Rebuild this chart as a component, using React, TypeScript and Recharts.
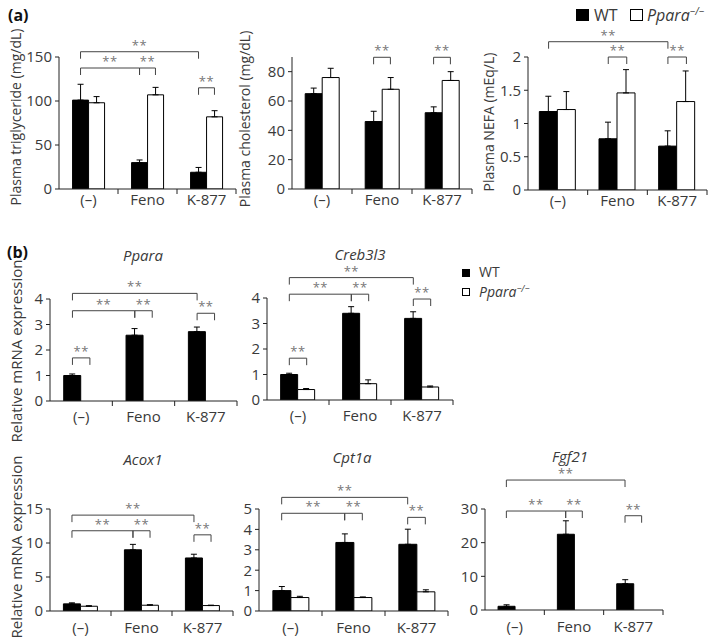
import React from "react";
import { BarChart, Bar, XAxis, YAxis, ErrorBar, ReferenceLine } from "recharts";

const groups = ["(–)", "Feno", "K-877"];

// (a) plasma lipids: WT / Ppara-/- means and SEM
const tgWT = [101, 30, 19];
const tgWTSem = [18, 3, 5.5];
const tgKO = [98, 107, 82];
const tgKOSem = [7, 8.5, 7];

const cholWT = [65, 46, 52];
const cholWTSem = [3.8, 7, 4];
const cholKO = [76, 68, 74];
const cholKOSem = [6.3, 8, 6];

const nefaWT = [1.18, 0.77, 0.66];
const nefaWTSem = [0.23, 0.25, 0.23];
const nefaKO = [1.21, 1.46, 1.33];
const nefaKOSem = [0.27, 0.35, 0.46];

// (b) relative mRNA expression
const pparaWT = [1.0, 2.58, 2.72];
const pparaWTSem = [0.06, 0.26, 0.18];
const pparaKO = [0, 0, 0];
const pparaKOSem = [0, 0, 0];

const creb3l3WT = [1.0, 3.4, 3.2];
const creb3l3WTSem = [0.05, 0.26, 0.26];
const creb3l3KO = [0.41, 0.64, 0.51];
const creb3l3KOSem = [0.04, 0.15, 0.04];

const acox1WT = [1.05, 9.0, 7.8];
const acox1WTSem = [0.15, 0.8, 0.55];
const acox1KO = [0.7, 0.85, 0.8];
const acox1KOSem = [0.08, 0.08, 0.06];

const cpt1aWT = [1.0, 3.36, 3.27];
const cpt1aWTSem = [0.2, 0.42, 0.74];
const cpt1aKO = [0.66, 0.66, 0.94];
const cpt1aKOSem = [0.06, 0.03, 0.1];

const fgf21WT = [1.1, 22.5, 7.8];
const fgf21WTSem = [0.45, 4.0, 1.2];
const fgf21KO = [0, 0, 0];
const fgf21KOSem = [0, 0, 0];

// significance brackets: [fromGroup, fromSeries, toGroup, toSeries, level] (series 0 = WT, 1 = KO)
type Sig = [number, number, number, number, number];
const tgSig: Sig[] = [[0, 0, 2, 0, 156], [0, 0, 1, 0, 137.5], [1, 0, 1, 1, 137.5], [2, 0, 2, 1, 115]];
const cholSig: Sig[] = [[1, 0, 1, 1, 89.8], [2, 0, 2, 1, 89.8]];
const nefaSig: Sig[] = [[0, 0, 2, 0, 2.23], [1, 0, 1, 1, 2.0], [2, 0, 2, 1, 2.0]];
const pparaSig: Sig[] = [[0, 0, 2, 0, 4.22], [0, 0, 1, 0, 3.54], [1, 0, 1, 1, 3.54], [2, 0, 2, 1, 3.44], [0, 0, 0, 1, 1.69]];
const creb3l3Sig: Sig[] = [[0, 0, 2, 0, 4.8], [0, 0, 1, 0, 4.15], [1, 0, 1, 1, 4.15], [2, 0, 2, 1, 3.96], [0, 0, 0, 1, 1.64]];
const acox1Sig: Sig[] = [[0, 0, 2, 0, 14.1], [0, 0, 1, 0, 11.8], [1, 0, 1, 1, 11.8], [2, 0, 2, 1, 11.2]];
const cpt1aSig: Sig[] = [[0, 0, 2, 0, 5.57], [0, 0, 1, 0, 4.79], [1, 0, 1, 1, 4.79], [2, 0, 2, 1, 4.59]];
const fgf21Sig: Sig[] = [[0, 0, 2, 0, 38.6], [0, 0, 1, 0, 29.4], [1, 0, 1, 1, 29.4], [2, 0, 2, 1, 28.0]];

const FONT = "'Open Sans', 'DejaVu Sans', sans-serif";
const TEXT = "#3a3a3a";
const AXIS = "#222";

type PanelProps = {
  x0: number;
  x1: number;
  y0: number;
  y1: number;
  wt: number[];
  wtSem: number[];
  ko: number[];
  koSem: number[];
  domain: [number, number];
  ticks: number[];
  sig: Sig[];
  gap: number;
  labelDy: number;
};

function Bracket(props: any) {
  const { x1, y1, x2 } = props;
  if (x1 == null || y1 == null) return <g />;
  return (
    <g>
      <path d={`M${x1},${y1 + 7}V${y1}H${x2}V${y1 + 7}`} fill="none" stroke="#444" strokeWidth={1} />
      <text x={(x1 + x2) / 2} y={y1 - 2} textAnchor="middle" fontSize={13} fill="#777" fontFamily={FONT} letterSpacing={0.5}>
        **
      </text>
    </g>
  );
}

function GroupTick(props: any) {
  const { x, y, payload, dy } = props;
  const v = payload.value;
  if (Number.isInteger(v)) {
    return <line x1={x} y1={y} x2={x} y2={y + 5} stroke={AXIS} />;
  }
  return (
    <text x={x} y={y + dy} textAnchor="middle" fontSize={15} fill={TEXT} fontFamily={FONT}>
      {groups[Math.floor(v)]}
    </text>
  );
}

function Panel(p: PanelProps) {
  const yw = 40;
  const mt = Math.min(p.y0, 70);
  const mr = 2;
  const mb = 30;
  const width = p.x1 - p.x0 + yw + mr;
  const height = p.y1 - p.y0 + mt + mb;
  // each group spans [i, i+1] on the numeric position axis
  const data = groups.map((g, i) => ({
    g,
    span: [i, i + 1],
    wt: p.wt[i],
    ko: p.ko[i],
    wtErr: [0, p.wtSem[i]],
    koErr: [0, p.koSem[i]],
  }));
  const half = (0.5 - p.gap) / 2;
  const cx = (grp: number, s: number) => grp + 0.5 + (s === 0 ? -half : half);

  return (
    <div style={{ position: "absolute", left: p.x0 - yw, top: p.y0 - mt }}>
      <BarChart
        width={width}
        height={height}
        data={data}
        margin={{ top: mt, right: mr, bottom: 0, left: 0 }}
        barGap={0}
        barCategoryGap={`${p.gap * 100}%`}
      >
        <XAxis
          xAxisId="n"
          type="number"
          dataKey="span"
          domain={[0, 3]}
          ticks={[0.5, 1, 1.5, 2, 2.5, 3]}
          interval={0}
          height={mb}
          tickSize={0}
          tickMargin={0}
          tickLine={false}
          stroke={AXIS}
          allowDataOverflow
          tick={(t: any) => <GroupTick {...t} dy={p.labelDy} />}
        />
        <XAxis xAxisId="c" dataKey="g" hide height={0} />
        <YAxis
          width={yw}
          domain={p.domain}
          ticks={p.ticks}
          interval={0}
          allowDataOverflow
          tickSize={4}
          tickMargin={3}
          stroke={AXIS}
          tick={{ fontSize: 15, fill: TEXT, fontFamily: FONT }}
        />
        <Bar dataKey="wt" xAxisId="c" fill="#000" stroke="#000" isAnimationActive={false}>
          <ErrorBar dataKey="wtErr" width={3} stroke="#000" strokeWidth={1} direction="y" />
        </Bar>
        <Bar dataKey="ko" xAxisId="c" fill="#fff" stroke="#000" isAnimationActive={false}>
          <ErrorBar dataKey="koErr" width={3} stroke="#000" strokeWidth={1} direction="y" />
        </Bar>
        {p.sig.map((s, i) => (
          <ReferenceLine
            key={i}
            xAxisId="n"
            ifOverflow="visible"
            segment={[
              { x: cx(s[0], s[1]), y: s[4] },
              { x: cx(s[2], s[3]), y: s[4] },
            ]}
            shape={(sp: any) => <Bracket {...sp} />}
          />
        ))}
      </BarChart>
    </div>
  );
}

function VLabel({ x, y, text, size }: { x: number; y: number; text: string; size: number }) {
  return (
    <text
      x={x}
      y={y}
      transform={`rotate(-90 ${x} ${y})`}
      textAnchor="middle"
      dominantBaseline="central"
      fontSize={size}
      fill={TEXT}
      fontFamily={FONT}
    >
      {text}
    </text>
  );
}

function Title({ x, y, text }: { x: number; y: number; text: string }) {
  return (
    <text x={x} y={y + 5} textAnchor="middle" fontSize={15} fontStyle="italic" fill={TEXT} fontFamily={FONT}>
      {text}
    </text>
  );
}

export default function App() {
  return (
    <div style={{ position: "absolute", left: 0, top: 0, width: 709, height: 638, background: "#fff", fontFamily: FONT }}>
      <Panel x0={59} x1={236} y0={57} y1={189} wt={tgWT} wtSem={tgWTSem} ko={tgKO} koSem={tgKOSem} domain={[0, 150]} ticks={[0, 50, 100, 150]} sig={tgSig} gap={0.23} labelDy={16} />
      <Panel x0={292} x1={472} y0={57} y1={189} wt={cholWT} wtSem={cholWTSem} ko={cholKO} koSem={cholKOSem} domain={[0, 90]} ticks={[0, 20, 40, 60, 80]} sig={cholSig} gap={0.22} labelDy={16} />
      <Panel x0={528} x1={707} y0={57} y1={190} wt={nefaWT} wtSem={nefaWTSem} ko={nefaKO} koSem={nefaKOSem} domain={[0, 2]} ticks={[0, 0.5, 1, 1.5, 2]} sig={nefaSig} gap={0.19} labelDy={16} />

      <Panel x0={50} x1={237} y0={299} y1={401} wt={pparaWT} wtSem={pparaWTSem} ko={pparaKO} koSem={pparaKOSem} domain={[0, 4]} ticks={[0, 1, 2, 3, 4]} sig={pparaSig} gap={0.22} labelDy={21} />
      <Panel x0={267} x1={453} y0={298} y1={400} wt={creb3l3WT} wtSem={creb3l3WTSem} ko={creb3l3KO} koSem={creb3l3KOSem} domain={[0, 4]} ticks={[0, 1, 2, 3, 4]} sig={creb3l3Sig} gap={0.22} labelDy={21} />

      <Panel x0={50} x1={233} y0={509} y1={611} wt={acox1WT} wtSem={acox1WTSem} ko={acox1KO} koSem={acox1KOSem} domain={[0, 15]} ticks={[0, 5, 10, 15]} sig={acox1Sig} gap={0.22} labelDy={22} />
      <Panel x0={259} x1={448} y0={509} y1={611} wt={cpt1aWT} wtSem={cpt1aWTSem} ko={cpt1aKO} koSem={cpt1aKOSem} domain={[0, 5]} ticks={[0, 1, 2, 3, 4, 5]} sig={cpt1aSig} gap={0.22} labelDy={22} />
      <Panel x0={485} x1={663} y0={509} y1={610} wt={fgf21WT} wtSem={fgf21WTSem} ko={fgf21KO} koSem={fgf21KOSem} domain={[0, 30]} ticks={[0, 10, 20, 30]} sig={fgf21Sig} gap={0.22} labelDy={22} />

      <svg width={709} height={638} style={{ position: "absolute", left: 0, top: 0, pointerEvents: "none" }}>
        <text x={8} y={21} fontSize={16} fontWeight="bold" fill="#111" fontFamily={FONT}>(a)</text>
        <text x={7} y={258} fontSize={16} fontWeight="bold" fill="#111" fontFamily={FONT}>(b)</text>

        <VLabel x={15} y={117} text="Plasma triglyceride (mg/dL)" size={14} />
        <VLabel x={244} y={119} text="Plasma cholesterol (mg/dL)" size={14} />
        <VLabel x={488} y={122} text="Plasma NEFA (mEq/L)" size={14} />
        <VLabel x={16} y={351} text="Relative mRNA expression" size={15} />
        <VLabel x={16} y={547} text="Relative mRNA expression" size={15} />

        <Title x={143} y={256} text="Ppara" />
        <Title x={360} y={255} text="Creb3l3" />
        <Title x={143} y={460} text="Acox1" />
        <Title x={352} y={458} text="Cpt1a" />
        <Title x={570} y={457} text="Fgf21" />

        {/* legend (a) */}
        <rect x={576} y={9} width={13} height={12} fill="#000" />
        <text x={594} y={21} fontSize={16} fill={TEXT} fontFamily={FONT}>WT</text>
        <rect x={630.5} y={9.5} width={12} height={11} fill="#fff" stroke="#000" />
        <text x={647} y={21} fontSize={16} fontStyle="italic" fill={TEXT} fontFamily={FONT}>
          Ppara<tspan dy={-6} fontSize={10}>−/−</tspan>
        </text>

        {/* legend (b) */}
        <rect x={462} y={269} width={8} height={8} fill="#000" />
        <text x={479} y={277} fontSize={14} fill={TEXT} fontFamily={FONT}>WT</text>
        <rect x={462.5} y={288.5} width={7} height={7} fill="#fff" stroke="#000" />
        <text x={479} y={297} fontSize={14} fontStyle="italic" fill={TEXT} fontFamily={FONT}>
          Ppara<tspan dy={-5} fontSize={9}>−/−</tspan>
        </text>
      </svg>
    </div>
  );
}
